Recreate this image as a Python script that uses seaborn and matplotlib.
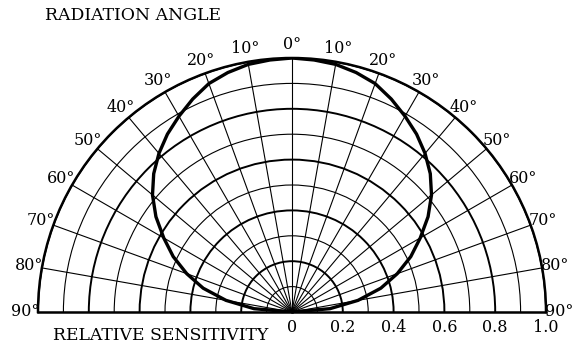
import numpy as np
import pandas as pd
import matplotlib
matplotlib.use("Agg")
import matplotlib.pyplot as plt
import matplotlib.transforms as mtransforms
import seaborn as sns

# Pick-up pattern, 0 deg = on axis, one side (symmetric)
angle_deg = [0, 5, 10, 15, 20, 25, 30, 35, 40, 45, 50, 55, 60, 65, 70, 75, 80, 85, 90]
sensitivity = [1.0, 0.996, 0.99, 0.976, 0.957, 0.925, 0.89, 0.855, 0.815, 0.77,
               0.717, 0.654, 0.583, 0.516, 0.441, 0.362, 0.264, 0.15, 0.0]

theta_ticks = list(range(-90, 91, 10))
theta_labels = [f"{abs(a)}°" for a in theta_ticks]
r_ticks = [0, 0.2, 0.4, 0.6, 0.8, 1.0]
r_labels = ["0", "0.2", "0.4", "0.6", "0.8", "1.0"]
r_minor = [0.1, 0.3, 0.5, 0.7, 0.9]

# both halves of the pattern
left = pd.DataFrame({"angle": [-a for a in angle_deg[::-1]], "sens": sensitivity[::-1]})
right = pd.DataFrame({"angle": angle_deg, "sens": sensitivity})
df = pd.concat([left, right.iloc[1:]], ignore_index=True)
df["theta"] = np.deg2rad(df["angle"])

sns.set_theme(style="white")
plt.rcParams["font.family"] = ["DejaVu Serif"]
plt.rcParams["text.color"] = "black"
plt.rcParams["xtick.color"] = "black"
plt.rcParams["ytick.color"] = "black"

W, H = 575, 350
cx, cy, R = 292, 312, 254  # centre and radius in pixels
fig = plt.figure(figsize=(W / 100, H / 100), dpi=100)
# the half-disc wedge gets padded to a square box, centre sits 1/4 up from its bottom
ax = fig.add_axes([(cx - R) / W, (H - cy - R / 2) / H, 2 * R / W, 2 * R / H],
                  projection="polar")
ax.set_theta_zero_location("N")
ax.set_theta_direction(-1)
ax.set_thetamin(-90)
ax.set_thetamax(90)
ax.set_ylim(0, 1)

sns.lineplot(data=df, x="theta", y="sens", ax=ax, color="black", lw=2.4, sort=False)

# grid
ax.set_thetagrids(theta_ticks, theta_labels, fontsize=11.5)
ax.tick_params(axis="x", length=0, pad=2.5)
ax.set_yticks(r_ticks)
ax.set_yticks(r_minor, minor=True)
ax.set_yticklabels([])
ax.xaxis.grid(True, color="black", lw=0.8)
ax.yaxis.grid(True, which="major", color="black", lw=1.4)
ax.yaxis.grid(True, which="minor", color="black", lw=0.8)
ax.tick_params(axis="y", which="both", length=0)
for name, sp in ax.spines.items():
    sp.set_color("black")
    sp.set_linewidth(1.8)

ax.set_xlabel("")
ax.set_ylabel("")

# radial scale labels under the baseline
off = mtransforms.offset_copy(ax.transData, fig=fig, y=-15, units="dots")
for r, lbl in zip(r_ticks, r_labels):
    ax.text(np.pi / 2, r, lbl, transform=off, ha="center", va="center", fontsize=11.5)

fig.text(45 / W, 1 - 16 / H, "RADIATION ANGLE", ha="left", va="center", fontsize=12.4)
fig.text(268 / W, 1 - 335 / H, "RELATIVE SENSITIVITY", ha="right", va="center", fontsize=12.4)

fig.savefig("out.png", dpi=100)
